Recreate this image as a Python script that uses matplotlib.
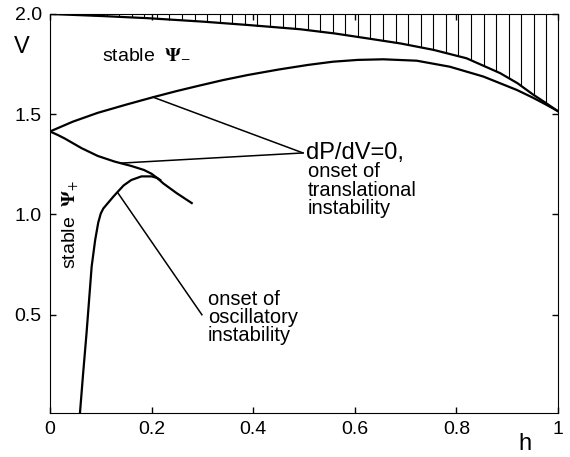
import numpy as np
import matplotlib
matplotlib.use("Agg")
import matplotlib.pyplot as plt

plt.rcParams['font.family'] = ['Liberation Sans', 'DejaVu Sans']
plt.rcParams['mathtext.fontset'] = 'stix'

# upper boundary of the hatched region
h_top = [0.0, 0.1, 0.193, 0.3, 0.39, 0.492, 0.56, 0.623, 0.69, 0.755, 0.82, 0.886, 0.92, 0.951, 0.975, 1.0]
V_top = [2.0, 1.99, 1.979, 1.962, 1.945, 1.924, 1.903, 1.879, 1.853, 1.821, 1.779, 1.705, 1.655, 1.598, 1.558, 1.515]

# lower boundary of stable Psi_-
h_minus = [0.0, 0.045, 0.094, 0.15, 0.203, 0.25, 0.291, 0.34, 0.39, 0.45, 0.508, 0.557, 0.606, 0.656,
           0.722, 0.787, 0.853, 0.919, 0.951, 0.975, 1.0]
V_minus = [1.414, 1.463, 1.507, 1.548, 1.585, 1.616, 1.641, 1.67, 1.696, 1.723, 1.746, 1.762, 1.771, 1.774,
           1.767, 1.737, 1.688, 1.621, 1.582, 1.55, 1.515]

# dP/dV = 0 curve
h_dp = [0.0, 0.015, 0.029, 0.062, 0.094, 0.127, 0.16, 0.185, 0.2, 0.212, 0.223, 0.249, 0.279]
V_dp = [1.414, 1.397, 1.379, 1.331, 1.292, 1.264, 1.242, 1.222, 1.203, 1.18, 1.155, 1.107, 1.057]

# stable Psi_+ boundary (oscillatory instability)
h_plus = [0.059, 0.065, 0.072, 0.082, 0.089, 0.095, 0.1, 0.105, 0.115, 0.125, 0.134, 0.145, 0.16, 0.18,
          0.2, 0.21, 0.217]
V_plus = [0.01, 0.2, 0.41, 0.74, 0.874, 0.96, 1.005, 1.03, 1.06, 1.09, 1.115, 1.145, 1.172, 1.19,
          1.19, 1.183, 1.172]

# pointer lines from the labels
ptr_trans_1 = ([0.203, 0.498], [1.585, 1.307])
ptr_trans_2 = ([0.138, 0.498], [1.256, 1.307])
ptr_osc = ([0.133, 0.299], [1.11, 0.500])

fig, ax = plt.subplots(figsize=(5.7, 4.57), dpi=100)
fig.subplots_adjust(left=0.0877, right=0.979, top=0.9694, bottom=0.0963)

# vertical hatching above the top curve
h_hatch = np.linspace(0.062, 0.977, 38)
ax.vlines(h_hatch, np.interp(h_hatch, h_top, V_top), 2.0, colors='k', lw=0.8)

ax.plot(h_top, V_top, 'k-', lw=1.6)
ax.plot(h_minus, V_minus, 'k-', lw=1.6)
ax.plot(h_dp, V_dp, 'k-', lw=1.6)
ax.plot(h_plus, V_plus, 'k-', lw=1.6)
for px, py in [ptr_trans_1, ptr_trans_2, ptr_osc]:
    ax.plot(px, py, 'k-', lw=1.1)

ax.text(0.102, 1.796, r'stable  $\mathbf{\Psi}_{-}$', fontsize=14, va='center', ha='left')
ax.text(0.043, 0.95, r'stable  $\mathbf{\Psi}_{+}$', fontsize=14, va='center', ha='center', rotation=90)
ax.text(0.503, 1.307, 'dP/dV=0,', fontsize=17, va='center', ha='left')
ax.text(0.507, 1.26, 'onset of\ntranslational\ninstability', fontsize=14.5, va='top', ha='left',
        linespacing=0.95)
ax.text(0.311, 0.625, 'onset of\noscillatory\ninstability', fontsize=14.5, va='top', ha='left',
        linespacing=0.95)

ax.set_xlim(0, 1)
ax.set_ylim(0.01, 2.0)
ax.set_xticks([0, 0.2, 0.4, 0.6, 0.8, 1])
ax.set_xticklabels(['0', '0.2', '0.4', '0.6', '0.8', '1'])
ax.set_yticks([0.5, 1.0, 1.5, 2.0])
ax.set_yticklabels(['0.5', '1.0', '1.5', '2.0'])
ax.tick_params(direction='in', length=4, width=1, labelsize=14, pad=6, top=True, right=True)

ax.set_xlabel('h', fontsize=17)
ax.xaxis.set_label_coords(0.935, -0.05)
ax.set_ylabel('V', fontsize=17, rotation=0)
ax.yaxis.set_label_coords(-0.055, 0.89)

fig.savefig('out.png', dpi=100)
